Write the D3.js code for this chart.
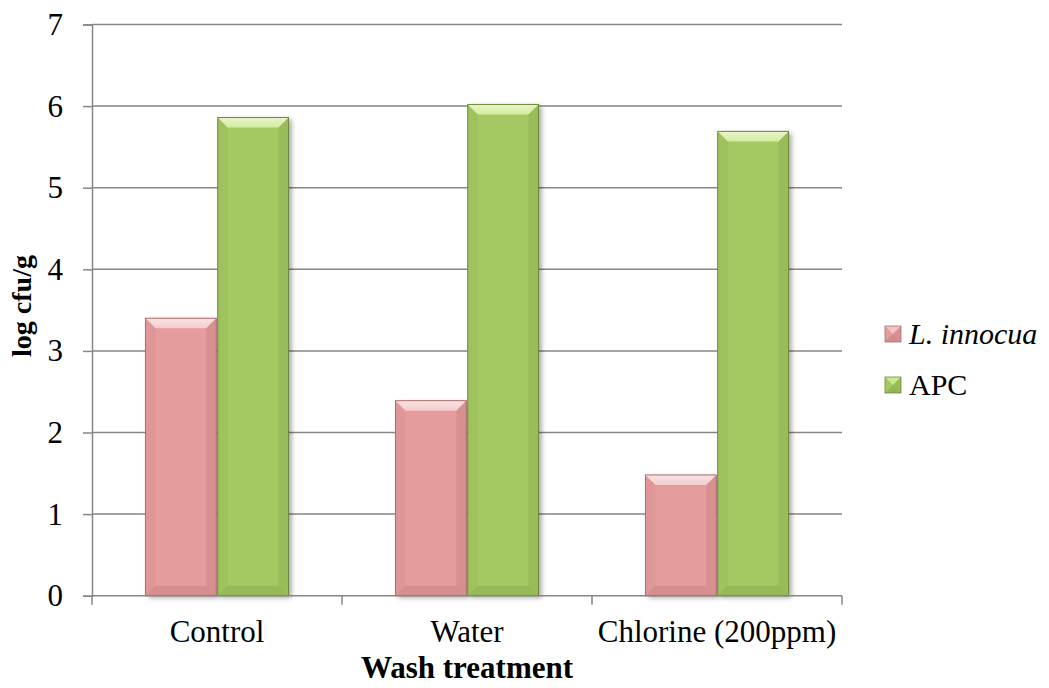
<!DOCTYPE html>
<html><head><meta charset="utf-8">
<script src="https://cdn.jsdelivr.net/npm/d3@7"></script>
<style>body{margin:0;background:#fff}svg{display:block}</style>
</head><body>
<script>
const categories = ["Control", "Water", "Chlorine (200ppm)"];
const seriesNames = ["L. innocua", "APC"];
const innocuaValues = [3.40, 2.39, 1.48];
const apcValues = [5.86, 6.02, 5.69];
const yTicks = [0, 1, 2, 3, 4, 5, 6, 7];

const colors = { "L. innocua": {fill:"#e59c9c", light:"#f8cccc", dark:"#c48080", stroke:"#a87070"},
                 "APC": {fill:"#a5c863", light:"#d6f09a", dark:"#88a84c", stroke:"#6d8a3a"} };

const W = 1049, H = 688;
const svg = d3.select("body").append("svg").attr("width", W).attr("height", H);
const defs = svg.append("defs");
const f = defs.append("filter").attr("id","sh").attr("x","-20%").attr("y","-10%").attr("width","150%").attr("height","130%");
f.append("feDropShadow").attr("dx",3).attr("dy",2).attr("stdDeviation",2.5).attr("flood-color","#000").attr("flood-opacity",0.35);
const tg = defs.append("linearGradient").attr("id","topg").attr("x1",0).attr("y1",0).attr("x2",0).attr("y2",1);
tg.append("stop").attr("offset",0).attr("stop-color","#fff").attr("stop-opacity",0.55);
tg.append("stop").attr("offset",1).attr("stop-color","#fff").attr("stop-opacity",0.15);

const pLeft = 92, pRight = 842, pTop = 24.5, pBottom = 595.7;
const y = d3.scaleLinear().domain([0,7]).range([pBottom, pTop]);
const x0 = d3.scaleBand().domain(categories).range([pLeft, pRight]).padding(0);
const x1 = d3.scaleBand().domain(seriesNames).range([0, x0.bandwidth()]).paddingInner(0.02).paddingOuter(0.74);

const font = "'Liberation Serif','Times New Roman',serif";

// gridlines
svg.append("g").selectAll("line").data(yTicks.filter(d=>d>0)).join("line")
  .attr("x1", pLeft).attr("x2", pRight).attr("y1", d=>y(d)).attr("y2", d=>y(d))
  .attr("stroke","#868686").attr("stroke-width",1.5);

// y axis
const ya = svg.append("g").attr("transform",`translate(${pLeft},0)`)
  .call(d3.axisLeft(y).tickValues(yTicks).tickSize(9).tickPadding(20).tickFormat(d3.format("d")));
ya.select(".domain").attr("stroke","#868686").attr("stroke-width",1.5);
ya.selectAll(".tick line").attr("stroke","#868686").attr("stroke-width",1.5);
ya.selectAll("text").attr("font-family",font).attr("font-size",31).attr("fill","#000");

// bars
const data = categories.map((c,i)=>({cat:c, vals:[{s:"L. innocua", v:innocuaValues[i]},{s:"APC", v:apcValues[i]}]}));
const groups = svg.append("g").selectAll("g").data(data).join("g")
  .attr("transform", d=>`translate(${x0(d.cat)},0)`);
const bars = groups.selectAll("g").data(d=>d.vals).join("g");
bars.each(function(d){
  const g = d3.select(this);
  const bx = x1(d.s), bw = x1.bandwidth(), by = y(d.v), bh = y(0)-y(d.v);
  const c = colors[d.s];
  const b = 10;
  g.append("rect").attr("x",bx).attr("y",by).attr("width",bw).attr("height",bh)
    .attr("fill",c.fill).attr("filter","url(#sh)");
  g.append("polygon").attr("points",[[bx,by],[bx+bw,by],[bx+bw-b,by+b],[bx+b,by+b]].join(" "))
    .attr("fill",c.light).attr("opacity",0.8);
  g.append("polygon").attr("points",[[bx,by],[bx+bw,by],[bx+bw-b,by+b],[bx+b,by+b]].join(" "))
    .attr("fill","url(#topg)");
  g.append("polygon").attr("points",[[bx,by+bh],[bx+bw,by+bh],[bx+bw-b,by+bh-b],[bx+b,by+bh-b]].join(" "))
    .attr("fill",c.dark).attr("opacity",0.5);
  g.append("polygon").attr("points",[[bx,by],[bx+b,by+b],[bx+b,by+bh-b],[bx,by+bh]].join(" "))
    .attr("fill",c.dark).attr("opacity",0.2);
  g.append("polygon").attr("points",[[bx+bw,by],[bx+bw-b,by+b],[bx+bw-b,by+bh-b],[bx+bw,by+bh]].join(" "))
    .attr("fill",c.dark).attr("opacity",0.4);
  g.append("rect").attr("x",bx).attr("y",by).attr("width",bw).attr("height",bh)
    .attr("fill","none").attr("stroke",c.stroke).attr("stroke-width",1);
});

// x axis
const xa = svg.append("g").attr("transform",`translate(0,${pBottom})`);
xa.append("line").attr("x1",pLeft).attr("x2",pRight).attr("stroke","#868686").attr("stroke-width",1.5);
xa.selectAll(".xt").data([pLeft, ...categories.map(c=>x0(c)+x0.bandwidth())]).join("line")
  .attr("x1",d=>d).attr("x2",d=>d).attr("y1",0).attr("y2",9).attr("stroke","#868686").attr("stroke-width",1.5);
xa.selectAll("text").data(categories).join("text")
  .attr("x",d=>x0(d)+x0.bandwidth()/2).attr("y",46).attr("text-anchor","middle")
  .attr("font-family",font).attr("font-size",31).text(d=>d);

// axis titles
svg.append("text").attr("x",(pLeft+pRight)/2).attr("y",678).attr("text-anchor","middle")
  .attr("font-family",font).attr("font-size",31).attr("font-weight","bold").text("Wash treatment");
svg.append("text").attr("transform",`translate(31,306) rotate(-90)`).attr("text-anchor","middle")
  .attr("font-family",font).attr("font-size",28).attr("font-weight","bold").text("log cfu/g");

// legend
const lg = svg.append("g").selectAll("g").data(seriesNames).join("g")
  .attr("transform",(d,i)=>`translate(885,${334 + i*51})`);
lg.each(function(d){
  const g = d3.select(this), c = colors[d], s = 16;
  g.append("rect").attr("x",0).attr("y",-s/2).attr("width",s).attr("height",s).attr("fill",c.fill);
  g.append("polygon").attr("points",[[0,-s/2],[s,-s/2],[s/2,0]].join(" ")).attr("fill",c.light).attr("opacity",0.8);
  g.append("polygon").attr("points",[[0,s/2],[s,s/2],[s/2,0]].join(" ")).attr("fill",c.dark).attr("opacity",0.6);
  g.append("polygon").attr("points",[[s,-s/2],[s,s/2],[s/2,0]].join(" ")).attr("fill",c.dark).attr("opacity",0.4);
  g.append("rect").attr("x",0).attr("y",-s/2).attr("width",s).attr("height",s).attr("fill","none").attr("stroke",c.stroke).attr("stroke-width",0.8);
  const t = g.append("text").attr("x",24).attr("y",10).attr("font-family",font).attr("font-size",30);
  if (d === "L. innocua") t.attr("font-style","italic");
  t.text(d);
});
</script>
</body></html>
